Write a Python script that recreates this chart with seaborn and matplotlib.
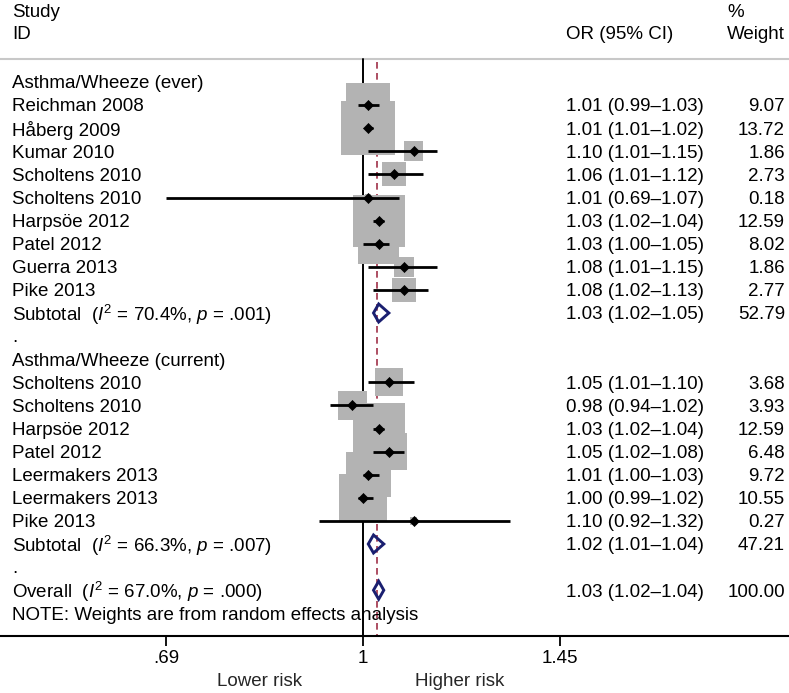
import numpy as np
import pandas as pd
import matplotlib
matplotlib.use("Agg")
import matplotlib.pyplot as plt
import matplotlib.transforms as mtransforms
from matplotlib.ticker import NullLocator
import seaborn as sns

# ---------------- data ----------------
ever_studies = ["Reichman 2008", "Håberg 2009", "Kumar 2010", "Scholtens 2010",
                "Scholtens 2010", "Harpsöe 2012", "Patel 2012", "Guerra 2013", "Pike 2013"]
ever_or = [1.01, 1.01, 1.10, 1.06, 1.01, 1.03, 1.03, 1.08, 1.08]
ever_lo = [0.99, 1.01, 1.01, 1.01, 0.69, 1.02, 1.00, 1.01, 1.02]
ever_hi = [1.03, 1.02, 1.15, 1.12, 1.07, 1.04, 1.05, 1.15, 1.13]
ever_w = [9.07, 13.72, 1.86, 2.73, 0.18, 12.59, 8.02, 1.86, 2.77]

cur_studies = ["Scholtens 2010", "Scholtens 2010", "Harpsöe 2012", "Patel 2012",
               "Leermakers 2013", "Leermakers 2013", "Pike 2013"]
cur_or = [1.05, 0.98, 1.03, 1.05, 1.01, 1.00, 1.10]
cur_lo = [1.01, 0.94, 1.02, 1.02, 1.00, 0.99, 0.92]
cur_hi = [1.10, 1.02, 1.04, 1.08, 1.03, 1.02, 1.32]
cur_w = [3.68, 3.93, 12.59, 6.48, 9.72, 10.55, 0.27]

pooled_labels = ["Subtotal  ($\\mathit{I}^2$ = 70.4%, $\\mathit{p}$ = .001)",
                 "Subtotal  ($\\mathit{I}^2$ = 66.3%, $\\mathit{p}$ = .007)",
                 "Overall  ($\\mathit{I}^2$ = 67.0%, $\\mathit{p}$ = .000)"]
pooled_or = [1.03, 1.02, 1.03]
pooled_lo = [1.02, 1.01, 1.02]
pooled_hi = [1.05, 1.04, 1.04]
pooled_w = [52.79, 47.21, 100.00]
overall_line = 1.026

group_titles = ["Asthma/Wheeze (ever)", "Asthma/Wheeze (current)"]
note_text = "NOTE: Weights are from random effects analysis"
xticks = [0.69, 1, 1.45]
xtick_labels = [".69", "1", "1.45"]

# ---------------- layout of rows ----------------
study_rows_ever = list(range(1, 10))
study_rows_cur = list(range(13, 20))
pooled_rows = [10, 20, 22]
title_rows = [0, 12]
dot_rows = [11, 21]
note_row = 23

studies = pd.DataFrame({
    "label": ever_studies + cur_studies,
    "est": ever_or + cur_or,
    "lo": ever_lo + cur_lo,
    "hi": ever_hi + cur_hi,
    "w": ever_w + cur_w,
    "row": study_rows_ever + study_rows_cur,
})

# ---------------- style ----------------
sns.set_style("white")
plt.rcParams["font.family"] = ["Liberation Sans", "DejaVu Sans"]
plt.rcParams["mathtext.fontset"] = "custom"
plt.rcParams["mathtext.rm"] = "Liberation Sans"
plt.rcParams["mathtext.it"] = "Liberation Sans:italic"
FS = 13.5

W, H = 789, 693
fig = plt.figure(figsize=(W / 100, H / 100), dpi=100)
axis_px = 636.4
ax = fig.add_axes([0, (H - axis_px) / H, 1, axis_px / H])
ax.set_xscale("log")
x0, scale = 363.0, 530.0
ax.set_xlim(np.exp(-x0 / scale), np.exp((W - x0) / scale))
row0, step = 82.0, 23.1
ax.set_ylim((axis_px - row0) / step, (0 - row0) / step)

# reference lines
ax.axhline(-1, color="#c8c8c8", lw=1.5, zorder=1)
ax.plot([1, 1], [-1, 24], color="black", lw=1.4, zorder=1)
ax.plot([overall_line, overall_line], [-0.85, 24], color="#a03048", lw=1.2,
        linestyle=(0, (4, 2.6)), zorder=1)

# weight boxes
sns.scatterplot(data=studies, x="est", y="row", marker="s",
                s=studies["w"].to_numpy() * 110.5, color="#b3b3b3",
                edgecolor="none", linewidth=0, ax=ax, legend=False, zorder=2)
# CIs
ax.hlines(studies["row"], studies["lo"], studies["hi"], color="black", lw=2, zorder=3)
# point estimates
sns.scatterplot(data=studies, x="est", y="row", marker="D", s=26, color="black",
                edgecolor="black", linewidth=0.5, ax=ax, legend=False, zorder=4)

# pooled diamonds
for r, e, lo, hi in zip(pooled_rows, pooled_or, pooled_lo, pooled_hi):
    ax.fill([lo, e, hi, e], [r, r - 0.39, r, r + 0.39], facecolor="none",
            edgecolor="#1a1f70", lw=2.1, zorder=4, joinstyle="miter")

# axes styling
for side in ["top", "left", "right"]:
    ax.spines[side].set_visible(False)
ax.spines["bottom"].set_color("black")
ax.spines["bottom"].set_linewidth(1.5)
ax.set_xticks(xticks)
ax.set_xticklabels(xtick_labels)
ax.xaxis.set_minor_locator(NullLocator())
ax.set_yticks([])
ax.tick_params(axis="x", direction="out", length=7.2, width=1.3, pad=2.5,
               labelsize=FS, colors="black", bottom=True)
ax.set_xlabel("")
ax.set_ylabel("")
ax.grid(False)

# text columns
tr = mtransforms.blended_transform_factory(ax.transAxes, ax.transData)
xl, xor, xw = 12 / W, 566 / W, 785 / W
dy = 0.08
kw = dict(transform=tr, fontsize=FS, va="center", color="black")

ax.text(xl, -3.0, "Study", ha="left", **kw)
ax.text(xl, -2.05, "ID", ha="left", **kw)
ax.text(xor, -2.05, "OR (95% CI)", ha="left", **kw)
ax.text(727 / W, -3.0, "%", ha="left", **kw)
ax.text(xw, -2.05, "Weight", ha="right", **kw)

for r, t in zip(title_rows, group_titles):
    ax.text(xl, r + dy, t, ha="left", **kw)
for r in dot_rows:
    ax.text(xl, r + dy, ".", ha="left", **kw)
for _, d in studies.iterrows():
    r = d["row"] + dy
    ax.text(xl, r, d["label"], ha="left", **kw)
    ax.text(xor, r, f"{d['est']:.2f} ({d['lo']:.2f}\u2013{d['hi']:.2f})", ha="left", **kw)
    ax.text(xw, r, f"{d['w']:.2f}", ha="right", **kw)
for r, lab, e, lo, hi, w in zip(pooled_rows, pooled_labels, pooled_or, pooled_lo,
                                pooled_hi, pooled_w):
    ax.text(xl, r + dy, lab, ha="left", **kw)
    ax.text(xor, r + dy, f"{e:.2f} ({lo:.2f}\u2013{hi:.2f})", ha="left", **kw)
    ax.text(xw, r + dy, f"{w:.2f}", ha="right", **kw)
ax.text(xl, note_row + dy, note_text, ha="left", **kw)

fig.text(260 / W, 1 - 681 / H, "Lower risk", ha="center", va="center", fontsize=FS)
fig.text(460 / W, 1 - 681 / H, "Higher risk", ha="center", va="center", fontsize=FS)

fig.savefig("out.png", dpi=100)
